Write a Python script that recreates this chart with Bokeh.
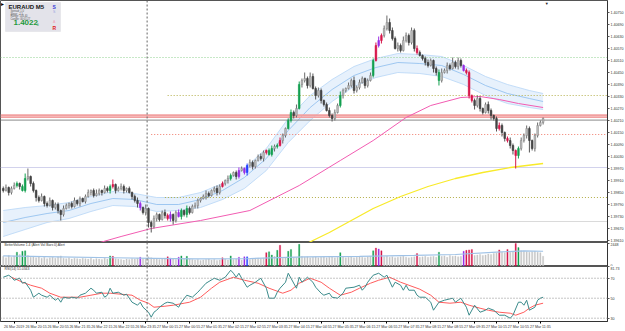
from bokeh.plotting import figure
from bokeh.layouts import column
from bokeh.models import Range1d, FixedTicker, NumeralTickFormatter, Span, BoxAnnotation, Label
from bokeh.embed import file_html
from bokeh.resources import INLINE

# ---------------- data (EURAUD M5) ----------------
open_first = 1.39870
closes = [
    1.39860, 1.39875, 1.39850, 1.39870, 1.39885, 1.39895, 1.39880, 1.39860, 1.39920, 1.39930,
    1.39895, 1.39860, 1.39825, 1.39810, 1.39830, 1.39795, 1.39785, 1.39810, 1.39775, 1.39790,
    1.39760, 1.39740, 1.39770, 1.39785, 1.39795, 1.39780, 1.39810, 1.39795, 1.39820, 1.39805,
    1.39830, 1.39850, 1.39860, 1.39835, 1.39845, 1.39860, 1.39850, 1.39870, 1.39860, 1.39880,
    1.39890, 1.39860, 1.39870, 1.39880, 1.39860, 1.39870, 1.39850, 1.39830, 1.39810, 1.39795,
    1.39775, 1.39750, 1.39770, 1.39700, 1.39680, 1.39720, 1.39740, 1.39715, 1.39750, 1.39735,
    1.39720, 1.39740, 1.39710, 1.39750, 1.39730, 1.39760, 1.39740, 1.39770, 1.39750, 1.39780,
    1.39785, 1.39810, 1.39820, 1.39830, 1.39845, 1.39835, 1.39860, 1.39870, 1.39850, 1.39880,
    1.39895, 1.39910, 1.39920, 1.39935, 1.39950, 1.39930, 1.39960, 1.39970, 1.39950, 1.39985,
    1.40000, 1.39980, 1.40010, 1.40030, 1.40020, 1.40050, 1.40060, 1.40040, 1.40070, 1.40080,
    1.40085, 1.40110, 1.40135, 1.40170, 1.40210, 1.40250, 1.40235, 1.40270, 1.40390, 1.40410,
    1.40420, 1.40385, 1.40430, 1.40370, 1.40335, 1.40360, 1.40310, 1.40290, 1.40260, 1.40235,
    1.40220, 1.40250, 1.40285, 1.40335, 1.40360, 1.40370, 1.40385, 1.40410, 1.40360, 1.40375,
    1.40400, 1.40420, 1.40385, 1.40410, 1.40435, 1.40510, 1.40585, 1.40610, 1.40635, 1.40670,
    1.40700, 1.40660, 1.40620, 1.40570, 1.40585, 1.40560, 1.40610, 1.40635, 1.40600, 1.40660,
    1.40570, 1.40550, 1.40535, 1.40520, 1.40500, 1.40485, 1.40510, 1.40470, 1.40450, 1.40410,
    1.40450, 1.40460, 1.40485, 1.40470, 1.40500, 1.40480, 1.40510, 1.40485, 1.40460, 1.40450,
    1.40335, 1.40310, 1.40285, 1.40320, 1.40270, 1.40250, 1.40290, 1.40260, 1.40235, 1.40220,
    1.40170, 1.40185, 1.40150, 1.40120, 1.40110, 1.40085, 1.40060, 1.40035, 1.40070, 1.40110,
    1.40135, 1.40170, 1.40110, 1.40070, 1.40135, 1.40185, 1.40200, 1.40220,
]
# wick lengths in points (0.00001)
upper_wick_pts = [
    10, 15, 5, 10, 15, 10, 5, 10, 25, 40,
    5, 10, 5, 10, 15, 5, 10, 15, 5, 10,
    10, 5, 15, 10, 5, 10, 15, 5, 10, 5,
    10, 15, 5, 10, 20, 10, 5, 15, 10, 10,
    25, 5, 10, 15, 10, 5, 10, 5, 10, 15,
    10, 5, 20, 5, 10, 15, 10, 5, 10, 15,
    10, 15, 5, 10, 15, 10, 5, 15, 10, 10,
    15, 10, 5, 10, 15, 10, 5, 10, 15, 10,
    10, 5, 15, 10, 5, 10, 15, 10, 5, 10,
    15, 10, 5, 10, 15, 10, 5, 10, 15, 10,
    10, 15, 10, 5, 10, 15, 10, 20, 15, 10,
    30, 10, 20, 15, 10, 15, 10, 5, 10, 15,
    10, 15, 10, 20, 10, 5, 15, 10, 20, 10,
    15, 10, 5, 10, 15, 10, 15, 20, 10, 15,
    35, 20, 15, 10, 15, 10, 20, 15, 10, 15,
    10, 15, 10, 5, 10, 15, 10, 5, 10, 15,
    20, 10, 15, 10, 25, 10, 15, 10, 5, 10,
    10, 5, 10, 15, 10, 5, 10, 15, 10, 5,
    10, 15, 10, 5, 10, 15, 10, 5, 10, 15,
    10, 15, 10, 5, 10, 15, 10, 5,
]
lower_wick_pts = [
    10, 5, 15, 10, 5, 10, 15, 5, 10, 10,
    15, 10, 20, 10, 5, 15, 10, 5, 15, 10,
    15, 30, 10, 5, 15, 10, 5, 10, 15, 5,
    10, 5, 15, 10, 5, 10, 15, 5, 10, 15,
    10, 15, 5, 10, 15, 10, 5, 15, 10, 20,
    15, 10, 15, 25, 30, 10, 15, 10, 5, 15,
    10, 15, 20, 10, 5, 15, 10, 15, 10, 5,
    10, 15, 10, 5, 15, 10, 5, 10, 15, 10,
    5, 10, 15, 10, 5, 15, 10, 5, 10, 15,
    10, 15, 10, 5, 10, 15, 10, 5, 10, 15,
    10, 5, 15, 10, 5, 10, 15, 10, 5, 15,
    10, 15, 10, 5, 20, 10, 15, 10, 5, 10,
    15, 10, 5, 10, 15, 10, 5, 10, 15, 10,
    10, 5, 15, 10, 5, 10, 5, 10, 15, 10,
    10, 15, 10, 5, 15, 10, 5, 10, 15, 10,
    15, 10, 5, 10, 15, 10, 5, 20, 15, 25,
    10, 5, 15, 10, 5, 10, 15, 10, 5, 10,
    15, 10, 20, 10, 15, 10, 5, 15, 20, 10,
    15, 10, 20, 15, 10, 15, 20, 65, 15, 10,
    10, 15, 60, 10, 15, 10, 5, 10,
]
volumes = [
    1100, 950, 1200, 1000, 1150, 1550, 1300, 1650, 1700, 1200,
    1000, 1100, 950, 1050, 900, 1000, 850, 950, 1000, 900,
    1050, 1150, 900, 850, 950, 800, 900, 850, 800, 900,
    850, 800, 900, 750, 850, 800, 750, 900, 800, 1150,
    1100, 850, 800, 750, 700, 800, 750, 850, 800, 900,
    1000, 850, 900, 1050, 950, 800, 850, 750, 800, 900,
    1050, 900, 800, 750, 1000, 1150, 850, 1100, 800, 750,
    700, 750, 650, 700, 750, 800, 700, 750, 650, 700,
    950, 800, 700, 1150, 750, 800, 1000, 700, 1050, 1050,
    750, 800, 850, 900, 850, 900, 1500, 1600, 1250, 1100,
    1750, 2300, 900, 950, 1650, 1850, 1000, 950, 2400, 1100,
    1000, 1050, 950, 1000, 1050, 950, 1000, 1050, 950, 1000,
    1050, 950, 1000, 1500, 1050, 950, 1000, 1050, 950, 1000,
    1050, 1000, 950, 1050, 1100, 1700, 2000, 1900, 1700, 1050,
    1100, 1000, 1050, 950, 1000, 1050, 1100, 1000, 950, 1000,
    1050, 1400, 1000, 1050, 1100, 1000, 1050, 1100, 1000, 1550,
    1100, 1150, 1000, 1200, 1100, 1150, 1050, 1100, 1650, 1750,
    1800, 1850, 1200, 1250, 1300, 1200, 1250, 1350, 1300, 1400,
    1450, 1800, 1550, 1500, 1850, 1550, 1600, 2500, 2050, 1700,
    1650, 1600, 1550, 1600, 1650, 1550, 1500, 1100,
]
# Better-Volume bar states (bar indices)
climax_green_bars = [5, 7, 8, 39, 65, 67, 83, 97, 98, 100, 104, 105, 108, 123, 135, 159, 188]
climax_red_bars = [40, 60, 80, 96, 101, 136, 138, 151, 169, 170, 171, 181, 184, 187]
churn_purple_bars = [50, 61, 64, 86, 88, 137, 168]
low_blue_bars = [89]

vol_ma_bar = [0, 20, 40, 55, 70, 90, 110, 130, 150, 165, 180, 190, 197]
vol_ma_val = [1150, 1050, 950, 880, 830, 860, 1050, 1100, 1200, 1300, 1550, 1700, 1650]

# envelope (band) around the fast average
band_bar = [0, 8, 16, 24, 32, 40, 48, 56, 64, 72, 80, 88, 96, 104, 112, 120, 128, 136, 144, 152,
            160, 168, 176, 184, 192, 197]
band_upper = [1.39760, 1.39775, 1.39785, 1.39800, 1.39830, 1.39855, 1.39845, 1.39825, 1.39825, 1.39850,
              1.39895, 1.39970, 1.40070, 1.40220, 1.40335, 1.40415, 1.40480, 1.40520, 1.40545, 1.40540,
              1.40530, 1.40485, 1.40430, 1.40390, 1.40360, 1.40345]
band_mid = [1.39700, 1.39725, 1.39745, 1.39760, 1.39795, 1.39820, 1.39815, 1.39790, 1.39790, 1.39815,
            1.39860, 1.39925, 1.40020, 1.40160, 1.40275, 1.40365, 1.40435, 1.40475, 1.40500, 1.40495,
            1.40485, 1.40440, 1.40385, 1.40345, 1.40320, 1.40305]
band_lower = [1.39630, 1.39665, 1.39700, 1.39720, 1.39755, 1.39785, 1.39780, 1.39755, 1.39760, 1.39775,
              1.39815, 1.39870, 1.39960, 1.40100, 1.40210, 1.40305, 1.40380, 1.40425, 1.40450, 1.40445,
              1.40430, 1.40390, 1.40335, 1.40295, 1.40275, 1.40265]

pink_ma_bar = [34, 43, 54, 72, 90, 108, 123, 135, 147, 156, 167, 174, 181, 188, 197]
pink_ma_val = [1.39595, 1.39630, 1.39670, 1.39710, 1.39760, 1.39885, 1.40010, 1.40110, 1.40225,
               1.40285, 1.40325, 1.40330, 1.40315, 1.40295, 1.40275]
yellow_ma_bar = [108, 113, 119, 127, 135, 145, 155, 165, 175, 185, 197]
yellow_ma_val = [1.39575, 1.39610, 1.39650, 1.39710, 1.39770, 1.39830, 1.39880, 1.39920, 1.39950,
                 1.39975, 1.39995]

# horizontal price levels and the bar where each starts
level_price = [1.40525, 1.40335, 1.40237, 1.40227, 1.40212, 1.40140, 1.39975, 1.39825, 1.39705]
level_start_bar = [-1, 60, -1, -1, -1, 54, -1, 59, -1]

price_ticks = [1.4075, 1.4069, 1.4063, 1.4057, 1.4051, 1.4045, 1.4039, 1.4033, 1.4027, 1.4021,
               1.4015, 1.4009, 1.4003, 1.3997, 1.3991, 1.3985, 1.3979, 1.3973, 1.3967, 1.3961]

rsi_bar = [0, 2, 3, 4, 6, 7, 8, 10, 11, 13,
           14, 16, 17, 19, 20, 21, 22, 24, 25, 27,
           28, 30, 32, 33, 34, 36, 37, 38, 39, 40,
           42, 44, 45, 47, 49, 50, 51, 53, 54, 55,
           56, 57, 59, 60, 62, 64, 65, 67, 69, 71,
           72, 74, 77, 79, 81, 83, 84, 85, 86, 87,
           89, 90, 92, 94, 96, 97, 99, 100, 101, 103,
           104, 105, 107, 108, 109, 111, 113, 114, 116, 117,
           119, 120, 122, 124, 125, 128, 130, 131, 132, 133,
           135, 137, 139, 140, 142, 143, 145, 146, 147, 148,
           150, 151, 152, 154, 156, 157, 159, 161, 164, 165,
           167, 169, 170, 172, 174, 176, 177, 179, 181, 183,
           185, 186, 188, 189, 190, 191, 192, 194, 195, 196,
           197]
rsi_val = [71, 73, 71, 68, 70, 65, 66, 58, 51, 55,
           53, 51, 53, 48, 50, 46, 51, 50, 51, 50,
           53, 55, 60, 58, 55, 56, 51, 53, 60, 55,
           56, 53, 54, 46, 43, 46, 41, 36, 31, 36,
           38, 41, 45, 46, 45, 41, 46, 53, 51, 56,
           59, 65, 70, 68, 71, 78, 75, 71, 75, 70,
           61, 63, 66, 70, 60, 50, 50, 56, 60, 66,
           75, 70, 60, 71, 66, 71, 66, 61, 55, 53,
           55, 51, 50, 55, 60, 61, 63, 58, 61, 66,
           73, 75, 71, 73, 61, 66, 63, 58, 63, 58,
           58, 53, 51, 51, 46, 38, 46, 48, 50, 46,
           50, 41, 33, 43, 36, 38, 40, 38, 33, 33,
           30, 33, 46, 46, 43, 48, 38, 41, 48, 50,
           51]
signal_bar = [3, 7, 10, 14, 17, 21, 25, 28, 32, 36,
              39, 43, 47, 50, 53, 55, 59, 62, 66, 68,
              72, 76, 79, 84, 88, 93, 97, 102, 105, 108,
              112, 116, 119, 123, 127, 130, 134, 137, 141, 145,
              148, 152, 156, 159, 163, 167, 170, 174, 177, 181,
              185, 187, 190, 192, 194, 197]
signal_val = [71, 66, 63, 60, 55, 51, 51, 51, 53, 55,
              55, 54, 53, 48, 45, 41, 42, 43, 45, 46,
              51, 60, 66, 71, 68, 65, 60, 55, 58, 65,
              70, 66, 60, 53, 56, 60, 65, 68, 71, 66,
              63, 59, 53, 46, 45, 46, 43, 40, 38, 36,
              35, 33, 36, 40, 43, 45]
rsi_levels = [70, 50, 30]

day_separator_bar = 53
time_label_bars = [0, 8, 16, 24, 32, 40, 48, 56, 64, 72, 80, 88, 96, 104, 112, 120, 128, 136, 144,
                   152, 160, 168, 176, 184, 192]
time_labels = ["26 Mar 2019", "26 Mar 20:15", "26 Mar 20:55", "26 Mar 21:35", "26 Mar 22:15",
               "26 Mar 22:55", "26 Mar 23:35", "27 Mar 00:15", "27 Mar 00:55", "27 Mar 01:35",
               "27 Mar 02:15", "27 Mar 02:55", "27 Mar 03:35", "27 Mar 04:15", "27 Mar 04:55",
               "27 Mar 05:35", "27 Mar 06:15", "27 Mar 06:55", "27 Mar 07:35", "27 Mar 08:15",
               "27 Mar 08:55", "27 Mar 09:35", "27 Mar 10:15", "27 Mar 10:55", "27 Mar 11:35"]

# ---------------- layout constants ----------------
FW = 607
MAIN_H, VOL_H, RSI_H = 242, 24, 55
XR = (-1.0, 220.5)
YR = (1.3960, 1.4081)
VR = (0, 2600)
RR = (26.7, 81.73)
FONT = "Liberation Sans"
TICK_FS = "3.6px"


def x_of(px):
    return XR[0] + px * (XR[1] - XR[0]) / FW


def y_of(py):
    return YR[1] - py * (YR[1] - YR[0]) / MAIN_H


def style(p):
    p.xgrid.visible = False
    p.ygrid.visible = False
    p.outline_line_color = "#555555"
    p.background_fill_color = "white"
    p.border_fill_color = "white"
    for ax in p.yaxis:
        ax.major_label_text_font_size = TICK_FS
        ax.major_label_text_font = FONT
        ax.major_label_text_color = "#333333"
        ax.major_tick_out = 2
        ax.major_tick_in = 0
        ax.minor_tick_out = 0
        ax.minor_tick_in = 0
        ax.major_label_standoff = 1
        ax.axis_line_color = "#333333"
        ax.major_tick_line_color = "#555555"
    p.add_layout(Span(location=day_separator_bar - 0.5, dimension="height",
                      line_color="#666666", line_dash="2 2", line_width=1))


n = len(closes)
bars = list(range(n))
opens = [open_first] + closes[:-1]
highs = [max(o, c) + u * 1e-5 for o, c, u in zip(opens, closes, upper_wick_pts)]
lows = [min(o, c) - d * 1e-5 for o, c, d in zip(opens, closes, lower_wick_pts)]
body_top = [max(o, c) for o, c in zip(opens, closes)]
body_bot = [min(o, c) for o, c in zip(opens, closes)]

GREEN, RED, PURPLE, BLUE = "#14a050", "#d6164a", "#9a2ee6", "#2040ff"
candle_fill, candle_line, wick_col, vol_col = [], [], [], []
for i in bars:
    if i in climax_green_bars:
        c = GREEN
    elif i in climax_red_bars:
        c = RED
    elif i in churn_purple_bars:
        c = PURPLE
    elif i in low_blue_bars:
        c = BLUE
    else:
        c = None
    if c:
        candle_fill.append(c); candle_line.append(c); wick_col.append(c); vol_col.append(c)
    elif closes[i] >= opens[i]:
        candle_fill.append("#c2c2c2"); candle_line.append("#8a8a8a"); wick_col.append("#6a6a6a")
        vol_col.append("#c6c6c6")
    else:
        candle_fill.append("#474747"); candle_line.append("#3a3a3a"); wick_col.append("#555555")
        vol_col.append("#c6c6c6")

# ---------------- main price panel ----------------
main = figure(frame_width=FW, frame_height=MAIN_H, x_range=Range1d(*XR), y_range=Range1d(*YR),
              y_axis_location="right", x_axis_location=None, toolbar_location=None,
              output_backend="svg", min_border=0, min_border_right=18)
style(main)
main.yaxis.ticker = FixedTicker(ticks=price_ticks)
main.yaxis.formatter = NumeralTickFormatter(format="0.00000")

main.varea(x=band_bar, y1=band_lower, y2=band_upper, fill_color="#e4effc", fill_alpha=0.9)
main.line(band_bar, band_upper, line_color="#b6d6f6", line_width=0.8)
main.line(band_bar, band_lower, line_color="#b6d6f6", line_width=0.8)
main.line(band_bar, band_mid, line_color="#8cbdee", line_width=0.8)

level_styles = [
    dict(line_color="#8fd18f", line_dash="1 2", line_width=1),
    dict(line_color="#b3ae48", line_dash="1 2", line_width=1),
    dict(line_color="#f2a0a0", line_width=1.6),
    dict(line_color="#f2a0a0", line_width=1.6),
    dict(line_color="#8a8a8a", line_width=1),
    dict(line_color="#f07a6a", line_dash="1 2", line_width=1),
    dict(line_color="#d2d2ec", line_width=1),
    dict(line_color="#b3ae48", line_dash="1 2", line_width=1),
    dict(line_color="#dadada", line_width=1),
]
for price, start, st in zip(level_price, level_start_bar, level_styles):
    main.segment(x0=[start], y0=[price], x1=[XR[1]], y1=[price], **st)

main.line(pink_ma_bar, pink_ma_val, line_color="#f25cb2", line_width=1)
main.line(yellow_ma_bar, yellow_ma_val, line_color="#f8ea2a", line_width=1.3)

main.segment(x0=bars, y0=lows, x1=bars, y1=highs, line_color=wick_col, line_width=1)
main.vbar(x=bars, top=body_top, bottom=body_bot, width=0.6, fill_color=candle_fill,
          line_color=candle_line, line_width=0.6)

# info panel
main.add_layout(BoxAnnotation(left=x_of(5), right=x_of(60), top=y_of(2), bottom=y_of(31),
                              fill_color="#e3e3ea", fill_alpha=1, line_color="#cfcfd8", line_width=1))
main.add_layout(Label(x=x_of(0), y=y_of(0.5), text="▸", text_font=FONT, text_font_size="6px",
                      text_color="black", text_baseline="top"))
main.add_layout(Label(x=x_of(8), y=y_of(3), text="EURAUD  M5", text_font=FONT, text_font_size="6px",
                      text_font_style="bold", text_color="#111111", text_baseline="top"))
for k, t in enumerate(["Spread:  1.0", "Swap:  -2.5", "Range:  146.40", "Candle:  00:01:27"]):
    main.add_layout(Label(x=x_of(10), y=y_of(9.5 + 2.6 * k), text=t, text_font=FONT,
                          text_font_size="2.6px", text_color="#555555", text_baseline="top"))
main.add_layout(Label(x=x_of(13), y=y_of(19.5), text="1.4022", text_font=FONT, text_font_size="8px",
                      text_font_style="bold", text_color="#1f9a3e", text_baseline="top"))
main.add_layout(Label(x=x_of(36), y=y_of(22.5), text="0", text_font=FONT, text_font_size="4px",
                      text_color="#1f9a3e", text_baseline="top"))
main.add_layout(Label(x=x_of(52), y=y_of(3), text="S", text_font=FONT, text_font_size="5px",
                      text_font_style="bold", text_color="#3b3bd8", text_baseline="top"))
main.add_layout(Label(x=x_of(52.5), y=y_of(9.5), text="S", text_font=FONT, text_font_size="3.5px",
                      text_color="#9aa0e0", text_baseline="top"))
main.add_layout(Label(x=x_of(52.5), y=y_of(19), text="A", text_font=FONT, text_font_size="3.5px",
                      text_color="#f0a0b8", text_baseline="top"))
main.add_layout(Label(x=x_of(52), y=y_of(24), text="R", text_font=FONT, text_font_size="5px",
                      text_font_style="bold", text_color="#e02020", text_baseline="top"))

# current price tags on the scale
main.add_layout(Label(x=x_of(608), y=level_price[2], text="1.40240", text_font=FONT,
                      text_font_size=TICK_FS, text_color="white", background_fill_color="#ff2020",
                      text_baseline="middle"))
main.add_layout(Label(x=x_of(608), y=closes[-1] - 0.00008, text=f"{closes[-1]:.5f}", text_font=FONT,
                      text_font_size=TICK_FS, text_color="white", background_fill_color="#111111",
                      text_baseline="middle"))
main.add_layout(Label(x=n + 0.3, y=YR[1], text="▼", text_font=FONT, text_font_size="4px",
                      text_color="#222222", text_baseline="top", text_align="center"))

# ---------------- volume panel ----------------
vol = figure(frame_width=FW, frame_height=VOL_H, x_range=main.x_range, y_range=Range1d(*VR),
             y_axis_location="right", x_axis_location=None, toolbar_location=None,
             output_backend="svg", min_border=0, min_border_right=18)
style(vol)
vol.yaxis.ticker = FixedTicker(ticks=[0, 2448])
vol.yaxis.formatter = NumeralTickFormatter(format="0")
vol.vbar(x=bars, top=volumes, bottom=0, width=0.45, fill_color=vol_col, line_color=vol_col, line_width=0.3)
vol.line(vol_ma_bar, vol_ma_val, line_color="#9fc2e6", line_width=1.2)
vol.add_layout(Label(x=x_of(4), y=VR[1] - 80, text="BetterVolume 1.4  (Alert Vol Bars 0)   Alert",
                     text_font=FONT, text_font_size="3.4px", text_color="#333333", text_baseline="top"))

# ---------------- RSI panel ----------------
rsi = figure(frame_width=FW, frame_height=RSI_H, x_range=main.x_range, y_range=Range1d(*RR),
             y_axis_location="right", x_axis_location="below", toolbar_location=None,
             output_backend="svg", min_border=0, min_border_right=18, min_border_bottom=10)
style(rsi)
rsi.yaxis.ticker = FixedTicker(ticks=[30, 50, 70, 81.73])
rsi.yaxis.major_label_overrides = {30: "30", 50: "50", 70: "70", 81.73: "81.73"}
for lv in rsi_levels:
    rsi.add_layout(Span(location=lv, dimension="width", line_color="#8c8c8c", line_dash="1 2", line_width=1))
rsi.line(signal_bar, signal_val, line_color="#ff5c5c", line_width=1)
rsi.line(rsi_bar, rsi_val, line_color="#3b8b8b", line_width=1)
rsi.add_layout(Label(x=x_of(4), y=RR[1] - 0.8, text="RSI(14) 51.0343", text_font=FONT,
                     text_font_size="3.4px", text_color="#333333", text_baseline="top"))

xa = rsi.xaxis[0]
ticks = [b + 4 for b in time_label_bars]
xa.ticker = FixedTicker(ticks=ticks)
xa.major_label_overrides = {t: lab for t, lab in zip(ticks, time_labels)}
xa.major_label_text_font_size = TICK_FS
xa.major_label_text_font = FONT
xa.major_label_text_color = "#333333"
xa.major_tick_out = 2
xa.major_tick_in = 0
xa.minor_tick_out = 0
xa.minor_tick_in = 0
xa.major_label_standoff = 1
xa.axis_line_color = "#333333"

layout = column(main, vol, rsi)
open("out.html", "w").write(file_html(layout, INLINE))
